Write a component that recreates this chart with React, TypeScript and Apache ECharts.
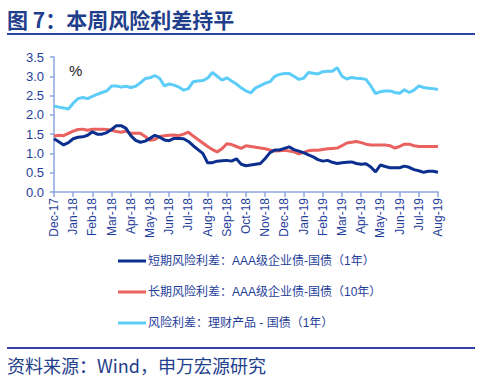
import React, { useEffect, useRef } from "react";
import * as echarts from "echarts";

const months = [
  "Dec-17", "Jan-18", "Feb-18", "Mar-18", "Apr-18", "May-18", "Jun-18", "Jul-18",
  "Aug-18", "Sep-18", "Oct-18", "Nov-18", "Dec-18", "Jan-19", "Feb-19", "Mar-19",
  "Apr-19", "May-19", "Jun-19", "Jul-19", "Aug-19",
];
const weeksPerMonth = 4;

// 短期风险利差：AAA级企业债-国债（1年）
const shortSpread = [
  1.38, 1.3, 1.22, 1.28, 1.38, 1.42, 1.43, 1.47, 1.56, 1.5, 1.5, 1.54, 1.62, 1.72, 1.72, 1.65,
  1.46, 1.34, 1.29, 1.32, 1.39, 1.47, 1.42, 1.35, 1.33, 1.39, 1.39, 1.38, 1.31, 1.2, 1.1, 1.0,
  0.76, 0.76, 0.8, 0.81, 0.82, 0.8, 0.86, 0.72, 0.68, 0.7, 0.72, 0.74, 0.87, 1.02, 1.09, 1.09,
  1.13, 1.17, 1.1, 1.06, 1.02, 0.96, 0.91, 0.84, 0.8, 0.82, 0.77, 0.74, 0.76, 0.77, 0.78, 0.74,
  0.72, 0.73, 0.65, 0.52, 0.7, 0.66, 0.63, 0.63, 0.63, 0.67, 0.64, 0.58, 0.55, 0.51, 0.54, 0.54,
  0.51,
];
// 长期风险利差：AAA级企业债-国债（10年）
const longSpread = [
  1.45, 1.47, 1.46, 1.52, 1.58, 1.62, 1.63, 1.6, 1.63, 1.63, 1.63, 1.62, 1.6, 1.57, 1.55, 1.58,
  1.52, 1.52, 1.52, 1.44, 1.34, 1.36, 1.44, 1.46, 1.47, 1.48, 1.46, 1.5, 1.55, 1.45, 1.36, 1.27,
  1.18, 1.1, 1.04, 1.12, 1.25, 1.23, 1.18, 1.13, 1.2, 1.18, 1.16, 1.14, 1.12, 1.09, 1.06, 1.07,
  1.08, 1.06, 1.04, 0.99, 1.02, 1.07, 1.08, 1.08, 1.1, 1.12, 1.13, 1.14, 1.2, 1.27, 1.29, 1.31,
  1.28, 1.24, 1.22, 1.22, 1.22, 1.22, 1.2, 1.14, 1.18, 1.24, 1.24, 1.2, 1.18, 1.18, 1.18, 1.18,
  1.18,
];
// 风险利差：理财产品 - 国债（1年）
const wmpSpread = [
  2.23, 2.2, 2.18, 2.15, 2.3, 2.42, 2.45, 2.42, 2.48, 2.53, 2.58, 2.62, 2.75, 2.75, 2.72, 2.74,
  2.71, 2.74, 2.83, 2.94, 2.96, 3.02, 2.95, 2.75, 2.8, 2.77, 2.72, 2.64, 2.68, 2.86, 2.88, 2.89,
  2.95, 3.1, 3.0, 2.9, 2.96, 2.88, 2.8, 2.7, 2.62, 2.57, 2.7, 2.76, 2.82, 2.86, 3.0, 3.05,
  3.07, 3.07, 3.0, 2.92, 2.95, 3.1, 3.08, 3.06, 3.12, 3.13, 3.13, 3.22, 3.0, 2.93, 2.97, 2.95,
  2.94, 2.92, 2.75, 2.55, 2.6, 2.62, 2.62, 2.58, 2.56, 2.65, 2.58, 2.64, 2.75, 2.71, 2.69, 2.68,
  2.66,
];

const seriesNames = [
  "短期风险利差：AAA级企业债-国债（1年）",
  "长期风险利差：AAA级企业债-国债（10年）",
  "风险利差：理财产品 - 国债（1年）",
];
const seriesColors = ["#0B2F8F", "#E9625F", "#5CCDF8"];

const categories: string[] = [];
months.forEach((m, mi) => {
  if (mi === months.length - 1) {
    categories.push(m);
  } else {
    for (let k = 0; k < weeksPerMonth; k++) categories.push(k === 0 ? m : `${m}·${k}`);
  }
});

const FONT = "'Liberation Sans', Arial, 'Noto Sans CJK SC', sans-serif";
const BLUE_TEXT = "#1F3E9A";

export default function App() {
  const ref = useRef<HTMLDivElement>(null);
  useEffect(() => {
    if (!ref.current) return;
    const chart = echarts.init(ref.current, undefined, { renderer: "svg" });
    const dataSets = [shortSpread, longSpread, wmpSpread];
    chart.setOption({
      animation: false,
      textStyle: { fontFamily: FONT },
      grid: { left: 54, right: 50, top: 57, bottom: 195, containLabel: false },
      xAxis: {
        type: "category",
        boundaryGap: false,
        data: categories,
        axisLine: { lineStyle: { color: "#8CA6DE", width: 1.5 } },
        axisTick: {
          interval: (i: number) => i % weeksPerMonth === 0,
          length: 5,
          lineStyle: { color: "#8CA6DE", width: 1.5 },
        },
        axisLabel: {
          interval: (i: number) => i % weeksPerMonth === 0,
          rotate: 90,
          color: BLUE_TEXT,
          fontSize: 12,
          fontFamily: FONT,
          margin: 6,
        },
        splitLine: { show: false },
      },
      yAxis: {
        type: "value",
        min: 0,
        max: 3.5,
        interval: 0.5,
        axisLine: { show: true, lineStyle: { color: "#8CA6DE", width: 1.5 } },
        axisTick: { show: true, length: 4, lineStyle: { color: "#8CA6DE", width: 1.5 } },
        axisLabel: {
          color: BLUE_TEXT,
          fontSize: 13,
          fontFamily: FONT,
          margin: 10,
          formatter: (v: number) => v.toFixed(1),
        },
        splitLine: { show: false },
      },
      legend: {
        orient: "vertical",
        left: 118,
        top: 255,
        padding: 0,
        icon: "rect",
        itemWidth: 28,
        itemHeight: 3,
        itemGap: 19,
        textStyle: { color: BLUE_TEXT, fontSize: 12, fontFamily: FONT, padding: [0, 0, 0, -3] },
        data: seriesNames,
      },
      series: dataSets.map((d, i) => ({
        name: seriesNames[i],
        type: "line",
        data: d,
        symbol: "none",
        smooth: false,
        lineStyle: { color: seriesColors[i], width: 3 },
        itemStyle: { color: seriesColors[i] },
        z: 3 - i,
      })),
      graphic: [
        {
          type: "text",
          left: 7,
          top: 8,
          style: {
            text: "图 7：本周风险利差持平",
            fill: "#1F3E8C",
            font: `bold 21px 'Noto Sans CJK SC', sans-serif`,
          },
        },
        {
          type: "line",
          shape: { x1: 7, y1: 34, x2: 475, y2: 34 },
          style: { stroke: "#2846A0", lineWidth: 2 },
        },
        {
          type: "text",
          left: 69,
          top: 63,
          style: { text: "%", fill: "#222", font: `15px ${FONT}` },
        },
        {
          type: "line",
          shape: { x1: 7, y1: 348, x2: 475, y2: 348 },
          style: { stroke: "#3A40A8", lineWidth: 2 },
        },
        {
          type: "text",
          left: 7,
          top: 356,
          style: {
            text: "资料来源：Wind，申万宏源研究",
            fill: "#1F3E8C",
            font: `18px 'Noto Sans CJK SC', sans-serif`,
          },
        },
      ],
    });
    return () => chart.dispose();
  }, []);
  return (
    <div
      ref={ref}
      style={{ position: "fixed", left: 0, top: 0, width: 488, height: 387, background: "#fff" }}
    />
  );
}
